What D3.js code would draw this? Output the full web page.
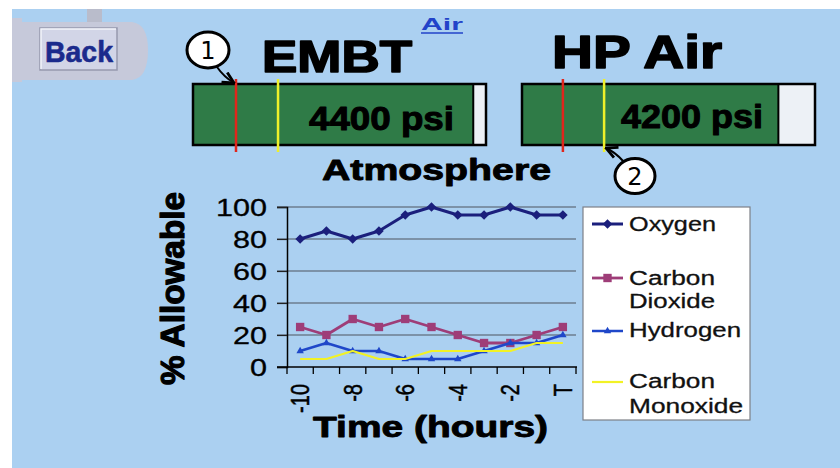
<!DOCTYPE html>
<html>
<head>
<meta charset="utf-8">
<script src="https://cdn.jsdelivr.net/npm/d3@7/dist/d3.min.js"></script>
<style>
  html, body { margin: 0; padding: 0; background: #ffffff; }
  svg { display: block; }
</style>
</head>
<body>
<svg id="chart" width="840" height="468"></svg>
<script>
// ---- data ----
const timeLabels = ["-10", "-9", "-8", "-7", "-6", "-5", "-4", "-3", "-2", "-1", "T"];
const timeTicksShown = ["-10", "-8", "-6", "-4", "-2", "T"];
const yTicks = [0, 20, 40, 60, 80, 100];

const oxygen         = [80, 85, 80, 85, 95, 100, 95, 95, 100, 95, 95];
const carbonDioxide  = [25, 20, 30, 25, 30, 25, 20, 15, 15, 20, 25];
const hydrogen       = [10, 15, 10, 10, 5, 5, 5, 10, 15, 15, 20];
const carbonMonoxide = [5, 5, 10, 5, 5, 10, 10, 10, 10, 15, 15];

const seriesNames = [["Oxygen"], ["Carbon", "Dioxide"], ["Hydrogen"], ["Carbon", "Monoxide"]];

const gaugeNames   = ["EMBT", "HP Air"];
const gaugePsi     = [4400, 4200];
const gaugeMaxPsi  = [4600, 4800];
const gaugeRedPsi  = [675, 670];
const gaugeYellowPsi = [1335, 1345];

// ---- setup ----
const svg = d3.select("#chart");
const W = 840, H = 468;
const SANS = "'Liberation Sans', Arial, Helvetica, sans-serif";

function txt(g, x, y, s, o) {
  let tf = `translate(${x},${y})`;
  if (o.sx) tf += ` scale(${o.sx},1)`;
  if (o.rot) tf += ` rotate(${o.rot})`;
  const t = g.append("text")
    .attr("transform", tf)
    .attr("font-family", o.ff || SANS)
    .attr("font-size", o.fs)
    .attr("font-weight", o.fw || "normal")
    .attr("fill", o.fill || "#000")
    .attr("text-anchor", o.anchor || "start")
    .text(s);
  if (o.heavy) t.attr("stroke", o.fill || "#000").attr("stroke-width", o.heavy).attr("stroke-linejoin", "round");
  if (o.dy) t.attr("dy", o.dy);
  if (o.len) t.attr("textLength", o.len).attr("lengthAdjust", "spacingAndGlyphs");
  return t;
}

// background
svg.append("rect").attr("width", W).attr("height", H).attr("fill", "#ffffff");
svg.append("rect").attr("x", 12).attr("y", 9).attr("width", W - 12).attr("height", H - 9).attr("fill", "#abd0f1");

// ---- Back button ----
const back = svg.append("g");
back.append("rect").attr("x", 87).attr("y", 9).attr("width", 15).attr("height", 14).attr("fill", "#b9bccb");
back.append("path")
  .attr("d", "M12,18 L22,18 L22,22 L132,22 Q148,24 148,50 Q148,78 132,80 L22,80 L22,82 L12,82 Z")
  .attr("fill", "#c6c9da");
back.append("rect").attr("x", 40).attr("y", 28).attr("width", 77).attr("height", 42)
  .attr("fill", "#d2d5e7").attr("stroke", "#9799ae").attr("stroke-width", 1.5);
back.append("path").attr("d", "M41,69 L41,29 L116,29").attr("fill", "none")
  .attr("stroke", "#f2f3fa").attr("stroke-width", 1.5);
txt(back, 45, 62, "Back", { fs: 29, fw: "bold", fill: "#1b2a8c", len: 68, heavy: 0.6 });

// ---- "Air" link ----
txt(svg, 421, 30, "Air", { fs: 17, fw: "bold", fill: "#2243c9", len: 42 });
svg.append("line").attr("x1", 421).attr("x2", 463).attr("y1", 33).attr("y2", 33)
  .attr("stroke", "#2243c9").attr("stroke-width", 1.5);

// ---- gauges ----
const gaugeLayout = [
  { x0: 193, title: [262, 72, 44, 150], label: [309, 130, 145] },
  { x0: 522, title: [552, 68, 46, 170], label: [621, 128, 142] }
];
const gaugeW = 293, gaugeTop = 84, gaugeH = 61;

gaugeNames.forEach((name, i) => {
  const L = gaugeLayout[i];
  const g = svg.append("g");
  const gs = d3.scaleLinear().domain([0, gaugeMaxPsi[i]]).range([L.x0, L.x0 + gaugeW]);
  txt(g, L.title[0], L.title[1], name, { fs: L.title[2], fw: "bold", len: L.title[3], heavy: 1.6 });
  g.append("rect").attr("x", L.x0).attr("y", gaugeTop).attr("width", gaugeW).attr("height", gaugeH)
    .attr("fill", "#edf1f6");
  g.append("rect").attr("x", L.x0).attr("y", gaugeTop)
    .attr("width", gs(gaugePsi[i]) - L.x0).attr("height", gaugeH)
    .attr("fill", "#2f7b47");
  g.append("line").attr("x1", gs(gaugePsi[i])).attr("x2", gs(gaugePsi[i]))
    .attr("y1", gaugeTop).attr("y2", gaugeTop + gaugeH).attr("stroke", "#000").attr("stroke-width", 2);
  g.append("rect").attr("x", L.x0).attr("y", gaugeTop).attr("width", gaugeW).attr("height", gaugeH)
    .attr("fill", "none").attr("stroke", "#000").attr("stroke-width", 2.5);
  g.append("line").attr("x1", gs(gaugeRedPsi[i])).attr("x2", gs(gaugeRedPsi[i]))
    .attr("y1", 79).attr("y2", 152).attr("stroke", "#e0261c").attr("stroke-width", 2.5);
  g.append("line").attr("x1", gs(gaugeYellowPsi[i])).attr("x2", gs(gaugeYellowPsi[i]))
    .attr("y1", 79).attr("y2", 152).attr("stroke", "#eef02a").attr("stroke-width", 2.5);
  txt(g, L.label[0], L.label[1], gaugePsi[i] + " psi", { fs: 33, fw: "bold", len: L.label[2], heavy: 1 });
});

// ---- callouts ----
const defs = svg.append("defs");
defs.append("marker").attr("id", "arrowHead").attr("viewBox", "0 0 10 10")
  .attr("refX", 9).attr("refY", 5).attr("markerWidth", 7).attr("markerHeight", 7)
  .attr("orient", "auto")
  .append("path").attr("d", "M1,1 L9,5 L1,9").attr("fill", "none")
  .attr("stroke", "#000").attr("stroke-width", 2);

const callouts = [
  { cx: 208, cy: 50, rx: 21, ry: 18, n: "1", tail: "M217,67 Q224,77 234,83" },
  { cx: 635, cy: 176, rx: 20, ry: 17.5, n: "2", tail: "M623,161 Q615,152 606,148" }
];
callouts.forEach(c => {
  svg.append("path").attr("d", c.tail).attr("fill", "none").attr("stroke", "#000")
    .attr("stroke-width", 2).attr("marker-end", "url(#arrowHead)");
  svg.append("ellipse").attr("cx", c.cx).attr("cy", c.cy).attr("rx", c.rx).attr("ry", c.ry)
    .attr("fill", "#ffffff").attr("stroke", "#000").attr("stroke-width", 3);
  txt(svg, c.cx, c.cy, c.n, { fs: 24, anchor: "middle", dy: "0.36em", ff: "'DejaVu Sans', sans-serif" });
});

// ---- chart titles ----
txt(svg, 322, 180, "Atmosphere", { fs: 30, fw: "bold", len: 229, heavy: 0.9 });
txt(svg, 313, 437, "Time (hours)", { fs: 30, fw: "bold", len: 235, heavy: 0.9 });
txt(svg, 184, 385, "% Allowable", { fs: 25, fw: "bold", sx: 1.3, rot: -90, len: 193, heavy: 0.9 });

// ---- line chart ----
const x = d3.scaleBand().domain(timeLabels).range([287, 576]);
const y = d3.scaleLinear().domain([0, 100]).range([367, 207]);
const cx = d => x(d) + x.bandwidth() / 2;

const plot = svg.append("g");

// gridlines
plot.append("g").selectAll("line").data(yTicks.filter(v => v > 0)).join("line")
  .attr("x1", 277).attr("x2", 576).attr("y1", d => y(d)).attr("y2", d => y(d))
  .attr("stroke", "#4f5560").attr("stroke-width", 1.2);

// y axis with stretched labels
const yAxis = plot.append("g").attr("transform", "translate(287,0)")
  .call(d3.axisLeft(y).tickValues(yTicks).tickSize(10).tickPadding(5));
yAxis.select(".domain").attr("stroke", "#000").attr("stroke-width", 1.5);
yAxis.selectAll(".tick line").attr("stroke", "#222").attr("stroke-width", 1.2);
yAxis.selectAll(".tick text")
  .attr("font-family", SANS).attr("font-size", 23).attr("fill", "#000")
  .attr("stroke", "#000").attr("stroke-width", 0.3)
  .attr("dy", "0.36em").attr("transform", "scale(1.33,1)");

// x axis line and category boundary ticks
const bounds = timeLabels.map(d => x(d)).concat([x.range()[1]]);
plot.append("line").attr("x1", 277).attr("x2", 577).attr("y1", y(0)).attr("y2", y(0))
  .attr("stroke", "#000").attr("stroke-width", 1.5);
plot.append("g").selectAll("line").data(bounds).join("line")
  .attr("x1", d => d).attr("x2", d => d).attr("y1", y(0)).attr("y2", y(0) + 7)
  .attr("stroke", "#000").attr("stroke-width", 1.3);

// x tick labels, rotated
timeTicksShown.forEach(t => {
  txt(plot, cx(t), 384, t, { fs: 20, sx: 1.3, rot: -90, anchor: "end", dy: "0.35em", heavy: 0.4 });
});

// series
const series = [
  { values: oxygen,         color: "#1b1f7c", width: 3.0, marker: "diamond" },
  { values: carbonDioxide,  color: "#9e3d78", width: 2.8, marker: "square" },
  { values: hydrogen,       color: "#1f47c9", width: 2.5, marker: "triangle" },
  { values: carbonMonoxide, color: "#f2f225", width: 2.2, marker: "none" }
];

function drawMarker(g, kind, px, py, color) {
  if (kind === "diamond") {
    g.append("path").attr("d", d3.symbol(d3.symbolSquare, 46)())
      .attr("transform", `translate(${px},${py}) rotate(45)`).attr("fill", color);
  } else if (kind === "square") {
    g.append("path").attr("d", d3.symbol(d3.symbolSquare, 70)())
      .attr("transform", `translate(${px},${py})`).attr("fill", color);
  } else if (kind === "triangle") {
    g.append("path").attr("d", d3.symbol(d3.symbolTriangle, 24)())
      .attr("transform", `translate(${px},${py})`).attr("fill", color);
  }
}

const line = d3.line().x((d, i) => cx(timeLabels[i])).y(d => y(d));
series.forEach(s => {
  const g = plot.append("g");
  g.append("path").datum(s.values).attr("d", line).attr("fill", "none")
    .attr("stroke", s.color).attr("stroke-width", s.width).attr("stroke-linejoin", "round");
  s.values.forEach((v, i) => drawMarker(g, s.marker, cx(timeLabels[i]), y(v), s.color));
});

// ---- legend ----
const leg = svg.append("g");
leg.append("rect").attr("x", 583).attr("y", 207).attr("width", 167).attr("height", 213)
  .attr("fill", "#ffffff").attr("stroke", "#7d8088").attr("stroke-width", 1.2);
const legRows = [
  { ly: 224, lines: [[231, 87]] },
  { ly: 278, lines: [[285, 86], [308, 86]] },
  { ly: 331, lines: [[337, 112]] },
  { ly: 382, lines: [[388, 86], [413, 114]] }
];
series.forEach((s, i) => {
  const r = legRows[i];
  leg.append("line").attr("x1", 592).attr("x2", 623).attr("y1", r.ly).attr("y2", r.ly)
    .attr("stroke", s.color).attr("stroke-width", s.width);
  drawMarker(leg, s.marker, 607.5, r.ly, s.color);
  seriesNames[i].forEach((word, j) => {
    txt(leg, 629, r.lines[j][0], word, { fs: 20, fill: "#111", len: r.lines[j][1], heavy: 0.3 });
  });
});
</script>
</body>
</html>
